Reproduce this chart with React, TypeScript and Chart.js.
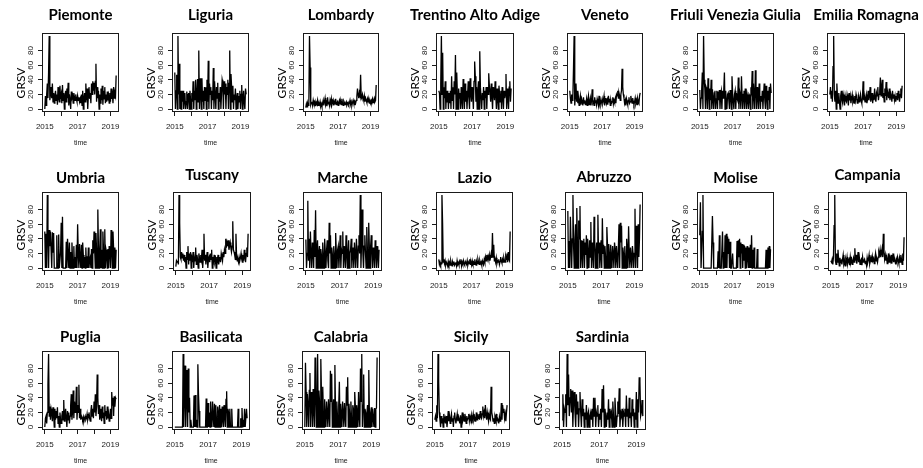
import React, { useEffect, useRef } from 'react';
import { Chart, registerables } from 'chart.js';

Chart.register(...registerables);

// ---------- data (biweekly GRSV values, 2015 -> mid 2019) ----------
const START_YEAR = 2015;
const POINTS_PER_YEAR = 26;

const piemonte = [
  0, 18, 5, 20, 35, 15, 50, 100, 12, 20, 30, 15, 35, 10, 22, 8, 18, 25, 12, 20, 6, 30, 15, 10, 32, 14,
  20, 8, 33, 12, 22, 0, 18, 25, 10, 28, 15, 36, 5, 20, 12, 0, 24, 15, 18, 8, 22, 16, 12, 20, 14, 10,
  18, 12, 16, 10, 14, 8, 20, 5, 25, 0, 15, 22, 10, 35, 12, 28, 0, 18, 30, 14, 22, 8, 35, 20, 38, 25,
  36, 20, 38, 62, 10, 30, 15, 25, 0, 20, 8, 28, 12, 32, 6, 25, 14, 30, 8, 20, 10, 24, 12, 18, 8, 22,
  10, 28, 14, 20, 8, 30, 15, 22, 18, 46,
];
const liguria = [
  50, 0, 25, 47, 0, 100, 20, 62, 0, 25, 0, 25, 10, 25, 0, 12, 22, 0, 10, 24, 0, 20, 22, 0, 25, 12,
  0, 22, 10, 38, 0, 25, 12, 40, 0, 20, 41, 10, 80, 0, 42, 20, 0, 42, 10, 25, 0, 30, 12, 30, 0, 40,
  10, 66, 0, 35, 20, 30, 0, 25, 12, 56, 0, 38, 20, 0, 30, 15, 36, 0, 22, 10, 30, 0, 20, 40, 35, 0,
  38, 20, 35, 0, 30, 20, 40, 0, 35, 80, 0, 48, 30, 10, 32, 0, 20, 12, 28, 0, 15, 22, 0, 18, 10, 25,
  0, 20, 33, 0, 15, 25, 8, 0, 28, 20,
];
const lombardy = [
  2, 7, 3, 8, 5, 10, 100, 57, 6, 9, 10, 5, 12, 8, 6, 10, 4, 9, 7, 12, 5, 8, 6, 10, 4, 7,
  3, 8, 12, 5, 10, 15, 6, 9, 4, 16, 7, 10, 5, 12, 8, 14, 6, 9, 12, 5, 10, 7, 14, 6, 8, 10,
  5, 9, 12, 7, 10, 6, 14, 8, 5, 11, 9, 6, 8, 10, 5, 7, 9, 6, 8, 12, 7, 10, 5, 9, 12, 8,
  6, 10, 8, 12, 18, 28, 20, 15, 22, 18, 47, 16, 14, 20, 16, 12, 18, 10, 15, 12, 9, 14, 10, 12, 8, 11,
  8, 12, 10, 14, 9, 12, 15, 10, 12, 33,
];
const trentino = [
  25, 22, 0, 35, 100, 20, 77, 0, 30, 15, 38, 0, 25, 10, 25, 0, 22, 8, 25, 0, 45, 12, 30, 0, 38, 20,
  74, 0, 50, 20, 0, 28, 15, 22, 0, 30, 12, 0, 41, 20, 0, 35, 10, 25, 0, 20, 38, 15, 0, 42, 22, 10,
  30, 20, 0, 38, 65, 45, 10, 30, 0, 25, 38, 0, 79, 30, 15, 0, 22, 12, 30, 0, 25, 15, 30, 0, 30, 20,
  49, 32, 25, 10, 35, 18, 0, 30, 22, 12, 38, 20, 0, 28, 15, 0, 32, 20, 10, 25, 0, 30, 18, 0, 25, 15,
  20, 48, 0, 28, 15, 0, 30, 38, 10, 28,
];
const veneto = [
  25, 15, 8, 20, 12, 18, 55, 100, 5, 18, 35, 10, 25, 8, 15, 5, 12, 18, 6, 14, 10, 5, 16, 8, 12, 6,
  8, 14, 5, 12, 18, 6, 10, 15, 5, 12, 27, 8, 10, 5, 16, 9, 12, 6, 14, 10, 5, 18, 8, 12, 6, 10,
  14, 8, 12, 18, 5, 10, 15, 8, 12, 6, 18, 10, 14, 5, 12, 8, 10, 16, 7, 12, 9, 14, 8, 20, 18, 25,
  15, 22, 18, 12, 20, 25, 55, 30, 20, 15, 8, 12, 5, 14, 10, 6, 12, 16, 8, 10, 18, 12, 8, 15, 10, 6,
  10, 15, 8, 12, 6, 14, 10, 8, 18, 22,
];
const friuli = [
  26, 0, 15, 26, 50, 0, 100, 40, 28, 0, 30, 27, 0, 42, 25, 0, 28, 12, 40, 0, 27, 15, 0, 22, 25, 0,
  14, 25, 0, 24, 12, 26, 0, 20, 25, 0, 25, 15, 26, 50, 0, 25, 10, 0, 20, 22, 12, 0, 26, 20, 0, 45,
  22, 10, 0, 20, 25, 0, 22, 15, 12, 43, 0, 25, 20, 0, 45, 18, 0, 20, 25, 0, 28, 18, 0, 20, 15, 0,
  20, 18, 0, 30, 25, 52, 0, 35, 20, 0, 53, 25, 0, 30, 18, 0, 35, 20, 0, 18, 10, 25, 0, 20, 35, 12,
  0, 32, 18, 0, 25, 12, 30, 0, 35, 22,
];
const emilia = [
  20, 30, 15, 25, 10, 58, 100, 20, 10, 25, 0, 35, 15, 8, 22, 10, 0, 18, 25, 12, 8, 20, 15, 5, 18, 12,
  10, 20, 15, 5, 22, 12, 18, 8, 15, 20, 10, 14, 8, 18, 12, 20, 15, 8, 12, 18, 10, 14, 20, 12, 8, 15,
  38, 12, 18, 10, 15, 20, 8, 14, 25, 12, 18, 30, 10, 15, 22, 8, 20, 12, 28, 15, 10, 22, 18, 30, 12, 20,
  25, 43, 18, 30, 40, 15, 22, 10, 28, 18, 37, 12, 25, 20, 15, 28, 12, 22, 18, 10, 25, 15, 20, 12, 18, 10,
  15, 22, 12, 25, 18, 10, 20, 28, 15, 32,
];
const umbria = [
  50, 0, 47, 0, 100, 48, 0, 52, 30, 50, 25, 0, 49, 22, 48, 0, 0, 0, 0, 45, 0, 0, 46, 0, 0, 22,
  62, 0, 70, 0, 0, 0, 0, 0, 36, 0, 40, 18, 0, 35, 0, 22, 0, 35, 10, 0, 30, 0, 15, 0, 32, 0,
  60, 20, 0, 33, 15, 0, 32, 0, 35, 18, 0, 15, 0, 28, 0, 16, 0, 28, 0, 12, 15, 0, 26, 0, 38, 20,
  50, 25, 0, 48, 25, 0, 80, 25, 0, 26, 53, 0, 25, 0, 50, 25, 0, 53, 0, 25, 20, 0, 26, 0, 30, 25,
  0, 52, 25, 0, 50, 26, 0, 28, 0, 25,
];
const tuscany = [
  2, 10, 8, 10, 5, 100, 62, 15, 12, 22, 14, 20, 10, 18, 8, 15, 0, 22, 12, 30, 5, 20, 10, 22, 0, 15,
  12, 22, 0, 15, 10, 28, 5, 18, 12, 0, 20, 14, 8, 18, 12, 25, 0, 15, 47, 10, 18, 5, 14, 22, 0, 12,
  15, 8, 20, 12, 25, 0, 15, 10, 18, 8, 12, 0, 15, 10, 18, 5, 12, 15, 8, 20, 15, 10, 22, 15, 25, 20,
  40, 28, 35, 30, 38, 25, 30, 35, 28, 22, 30, 64, 25, 22, 18, 12, 47, 15, 10, 12, 8, 15, 10, 14, 20, 12,
  8, 18, 10, 25, 15, 8, 20, 28, 15, 47,
];
const marche = [
  39, 0, 20, 92, 10, 40, 0, 50, 20, 0, 35, 22, 0, 52, 15, 79, 0, 25, 38, 0, 20, 30, 0, 26, 18, 0,
  35, 20, 0, 40, 22, 0, 25, 38, 10, 0, 62, 20, 45, 0, 28, 18, 0, 30, 20, 0, 48, 22, 0, 25, 30, 0,
  22, 45, 0, 25, 20, 50, 0, 30, 18, 0, 45, 20, 0, 25, 38, 0, 20, 25, 40, 0, 22, 28, 0, 35, 20, 0,
  40, 22, 0, 30, 45, 20, 100, 0, 35, 80, 20, 0, 30, 45, 22, 0, 56, 25, 0, 62, 28, 0, 30, 45, 20, 0,
  28, 20, 0, 38, 22, 0, 30, 18, 0, 25,
];
const lazio = [
  12, 5, 8, 4, 6, 100, 62, 8, 12, 6, 10, 4, 8, 6, 3, 9, 5, 8, 4, 10, 6, 3, 8, 5, 9, 4,
  6, 8, 3, 10, 5, 7, 4, 9, 6, 12, 3, 8, 5, 10, 6, 4, 9, 7, 5, 10, 4, 8, 6, 12, 5, 8,
  4, 10, 6, 8, 5, 12, 7, 4, 9, 6, 12, 8, 5, 10, 6, 8, 4, 10, 7, 5, 12, 8, 15, 10, 18, 12,
  16, 12, 18, 10, 15, 20, 14, 48, 15, 32, 10, 12, 8, 14, 6, 10, 8, 12, 5, 9, 15, 10, 7, 12, 8, 14,
  10, 8, 16, 12, 20, 8, 22, 12, 10, 50,
];
const abruzzo = [
  78, 0, 37, 0, 70, 35, 0, 40, 100, 30, 0, 38, 60, 0, 82, 35, 0, 65, 40, 85, 0, 38, 20, 0, 36, 40,
  0, 35, 18, 45, 0, 40, 20, 0, 38, 15, 63, 0, 35, 20, 0, 70, 38, 0, 20, 35, 0, 73, 20, 35, 0, 18,
  38, 0, 68, 20, 32, 0, 30, 15, 0, 56, 32, 0, 33, 20, 0, 32, 15, 0, 30, 20, 0, 35, 25, 0, 30, 15,
  0, 28, 60, 0, 62, 35, 58, 0, 28, 20, 0, 30, 15, 0, 40, 25, 0, 57, 20, 0, 28, 15, 0, 30, 20, 0,
  20, 81, 0, 58, 30, 0, 60, 15, 40, 87,
];
const molise = [
  45, 90, 0, 0, 50, 100, 0, 0, 0, 0, 0, 0, 0, 0, 0, 0, 0, 0, 0, 0, 71, 35, 0, 0, 0, 0,
  0, 0, 0, 23, 0, 45, 0, 0, 0, 0, 50, 0, 22, 0, 45, 0, 47, 0, 43, 20, 40, 0, 36, 0, 0, 0,
  20, 0, 0, 0, 0, 0, 0, 37, 0, 38, 15, 40, 0, 35, 20, 33, 0, 32, 10, 30, 0, 28, 0, 30, 15, 0,
  28, 0, 32, 0, 45, 0, 25, 0, 28, 0, 0, 0, 0, 26, 0, 0, 0, 0, 0, 0, 0, 0, 0, 0, 0, 0,
  0, 25, 0, 0, 28, 0, 30, 0, 25, 25,
];
const campania = [
  10, 8, 12, 5, 15, 58, 100, 10, 5, 20, 8, 25, 12, 3, 14, 8, 10, 5, 12, 18, 6, 10, 3, 12, 8, 15,
  6, 10, 12, 4, 15, 8, 12, 5, 10, 14, 8, 27, 10, 18, 6, 12, 22, 8, 14, 5, 10, 12, 4, 15, 8, 10,
  12, 6, 10, 4, 14, 8, 12, 18, 6, 10, 14, 8, 16, 10, 12, 6, 14, 20, 10, 12, 8, 15, 22, 18, 25, 15,
  20, 26, 15, 47, 22, 12, 18, 10, 15, 6, 12, 20, 8, 14, 10, 18, 6, 12, 20, 8, 14, 10, 5, 12, 8, 15,
  10, 6, 14, 8, 18, 12, 5, 20, 10, 42,
];
const puglia = [
  0, 12, 15, 5, 20, 58, 100, 15, 28, 10, 25, 20, 8, 27, 18, 0, 25, 10, 22, 12, 27, 5, 15, 0, 20, 10,
  5, 15, 22, 10, 37, 8, 18, 25, 12, 0, 22, 10, 20, 5, 15, 30, 45, 10, 22, 50, 12, 35, 20, 25, 55, 10,
  30, 20, 58, 12, 25, 10, 15, 12, 10, 14, 8, 12, 15, 10, 12, 18, 10, 14, 20, 12, 8, 22, 30, 15, 25, 12,
  35, 20, 45, 15, 28, 72, 40, 18, 30, 10, 25, 15, 8, 28, 12, 20, 5, 30, 15, 22, 10, 28, 12, 18, 8, 15,
  25, 12, 48, 30, 40, 15, 42, 28, 40, 38,
];
const basilicata = [
  0, 0, 0, 0, 0, 0, 0, 0, 0, 0, 0, 0, 0, 100, 0, 42, 84, 0, 78, 40, 0, 80, 20, 40, 0, 10,
  0, 0, 0, 0, 43, 0, 44, 0, 10, 0, 86, 45, 22, 0, 0, 0, 0, 0, 0, 0, 0, 0, 0, 39, 0, 0,
  33, 0, 20, 0, 35, 10, 0, 35, 15, 0, 32, 0, 30, 12, 0, 28, 0, 20, 30, 0, 25, 0, 28, 10, 0, 30,
  15, 0, 38, 49, 0, 25, 20, 0, 25, 0, 0, 25, 0, 0, 0, 0, 0, 0, 0, 0, 0, 25, 0, 0, 0, 12,
  0, 26, 0, 10, 0, 25, 0, 0, 25, 12,
];
const calabria = [
  0, 88, 48, 0, 45, 30, 0, 50, 74, 0, 48, 35, 0, 52, 25, 0, 95, 50, 0, 45, 100, 0, 50, 35, 0, 93,
  45, 0, 55, 20, 0, 38, 15, 0, 35, 20, 0, 38, 18, 0, 77, 35, 73, 0, 25, 38, 0, 85, 20, 0, 35, 15,
  0, 30, 62, 0, 32, 18, 0, 35, 20, 0, 33, 15, 0, 55, 30, 68, 0, 32, 18, 0, 35, 12, 0, 30, 25, 0,
  48, 28, 0, 30, 20, 0, 48, 15, 0, 80, 35, 100, 0, 30, 72, 0, 25, 20, 0, 18, 30, 0, 78, 15, 0, 20,
  27, 0, 25, 12, 0, 26, 0, 25, 26, 95,
];
const sicily = [
  10, 15, 8, 30, 12, 100, 63, 20, 10, 0, 15, 5, 12, 0, 18, 8, 12, 5, 15, 0, 10, 22, 8, 14, 5, 12,
  18, 8, 12, 0, 15, 20, 10, 5, 12, 18, 8, 14, 10, 5, 16, 0, 12, 20, 10, 14, 8, 18, 12, 5, 15, 10,
  12, 18, 8, 14, 10, 16, 5, 12, 18, 10, 14, 8, 12, 20, 10, 15, 12, 18, 10, 22, 14, 12, 18, 28, 15, 20,
  12, 30, 18, 10, 20, 14, 8, 18, 12, 10, 55, 20, 15, 8, 12, 5, 14, 10, 18, 8, 12, 10, 5, 14, 8, 12,
  33, 10, 30, 20, 25, 12, 18, 8, 20, 30,
];
const sardinia = [
  10, 45, 0, 25, 20, 45, 0, 100, 30, 72, 15, 40, 52, 20, 50, 0, 35, 48, 20, 0, 45, 18, 35, 0, 25, 48,
  20, 0, 38, 15, 25, 0, 20, 10, 30, 0, 18, 22, 0, 15, 20, 10, 25, 0, 40, 15, 40, 0, 20, 15, 30, 0,
  18, 10, 25, 0, 52, 20, 57, 0, 25, 15, 0, 20, 10, 38, 0, 25, 15, 20, 0, 35, 15, 0, 40, 20, 0, 15,
  35, 18, 53, 0, 20, 15, 25, 0, 20, 15, 25, 0, 43, 15, 25, 0, 40, 12, 20, 0, 38, 15, 25, 0, 20, 10,
  48, 0, 38, 20, 68, 62, 15, 20, 37, 15,
];

const REGIONS = [
  'Piemonte', 'Liguria', 'Lombardy', 'Trentino Alto Adige', 'Veneto', 'Friuli Venezia Giulia', 'Emilia Romagna',
  'Umbria', 'Tuscany', 'Marche', 'Lazio', 'Abruzzo', 'Molise', 'Campania',
  'Puglia', 'Basilicata', 'Calabria', 'Sicily', 'Sardinia',
];
const SERIES = [
  piemonte, liguria, lombardy, trentino, veneto, friuli, emilia,
  umbria, tuscany, marche, lazio, abruzzo, molise, campania,
  puglia, basilicata, calabria, sicily, sardinia,
];

const X_MIN = 2014.83;
const X_MAX = 2019.52;
const Y_MIN = -4;
const Y_MAX = 104;
const X_TICKS = [2015, 2016, 2017, 2018, 2019];
const X_TICK_LABELS = ['2015', '', '2017', '', '2019'];
const Y_TICKS = [0, 20, 40, 60, 80];
const Y_TITLE = 'GRSV';
const X_TITLE = 'time';

// ---------- layout (plot box left, top, width, height, title centre y, y-label centre y) ----------
const PANELS: number[][] = [
  [42, 33, 77, 79, 15, 83], [172, 33, 77, 79, 15, 83], [303, 33, 76, 79, 15, 83],
  [436, 33, 78, 79, 15, 83], [567, 33, 76, 79, 15, 83], [697, 33, 77, 79, 15, 83],
  [827, 33, 78, 79, 15, 83],
  [42, 192, 77, 79, 178, 235], [173, 192, 78, 79, 175, 235], [303, 192, 79, 79, 178, 235],
  [436, 192, 77, 79, 178, 235], [565, 192, 78, 79, 177, 235], [697, 192, 77, 79, 178, 235],
  [828, 192, 79, 79, 175, 235],
  [42, 351, 77, 79, 337, 410], [172, 351, 78, 79, 337, 410], [302, 351, 78, 79, 337, 410],
  [432, 351, 78, 79, 337, 410], [559, 351, 87, 79, 337, 410],
];

const AXIS_W = 42;
const TITLE_H = 33;
const XAXIS_H = 42;
const TICK_FONT = { family: '"Liberation Sans", Arial, sans-serif', size: 8 };
const INK = '#1a1a1a';

const panelDecor = {
  id: 'panelDecor',
  afterDraw(chart: any, _args: any, opts: any) {
    const { ctx, chartArea: a } = chart;
    ctx.save();
    ctx.strokeStyle = INK;
    ctx.lineWidth = 1;
    ctx.strokeRect(a.left + 0.5, a.top + 0.5, a.right - a.left - 1, a.bottom - a.top - 1);
    ctx.fillStyle = '#000';
    ctx.textAlign = 'center';
    ctx.textBaseline = 'middle';
    ctx.font = 'bold 15px Lato, "Open Sans", sans-serif';
    ctx.fillText(opts.title, (a.left + a.right) / 2, opts.titleY);
    ctx.translate(opts.ylabX, opts.ylabY);
    ctx.rotate(-Math.PI / 2);
    ctx.font = '12px Lato, "Open Sans", sans-serif';
    ctx.fillText(Y_TITLE, 0, 0);
    ctx.restore();
  },
};

function Panel({ idx }: { idx: number }) {
  const ref = useRef<HTMLCanvasElement | null>(null);
  const [L, T, W, H, titleY, ylabY] = PANELS[idx];
  const cw = W + 2 * AXIS_W;
  const ch = TITLE_H + H + XAXIS_H;
  const left = L - AXIS_W;
  const top = T - TITLE_H;

  useEffect(() => {
    if (!ref.current) return;
    const values = SERIES[idx];
    const chart = new Chart(ref.current, {
      type: 'line',
      data: {
        datasets: [
          {
            data: values.map((v, i) => ({ x: START_YEAR + i / POINTS_PER_YEAR, y: v })),
            borderColor: '#000',
            borderWidth: 1.3,
            pointRadius: 0,
            tension: 0,
            fill: false,
          },
        ],
      },
      options: {
        animation: false,
        responsive: false,
        devicePixelRatio: 1,
        layout: { padding: { top: TITLE_H, right: AXIS_W, left: 0, bottom: 0 } },
        plugins: {
          legend: { display: false },
          tooltip: { enabled: false },
          title: { display: false },
          panelDecor: {
            title: REGIONS[idx],
            titleY: titleY - top,
            ylabX: AXIS_W - 21,
            ylabY: ylabY - top,
          },
        } as any,
        scales: {
          x: {
            type: 'linear',
            min: X_MIN,
            max: X_MAX,
            afterBuildTicks: (s: any) => {
              s.ticks = X_TICKS.map((v) => ({ value: v }));
            },
            afterFit: (s: any) => {
              s.height = XAXIS_H;
            },
            ticks: {
              autoSkip: false,
              maxRotation: 0,
              minRotation: 0,
              padding: 6,
              font: TICK_FONT,
              color: INK,
              callback: (v: any) => {
                const k = X_TICKS.indexOf(Number(v));
                return k >= 0 ? X_TICK_LABELS[k] : '';
              },
            },
            grid: { display: true, drawOnChartArea: false, drawTicks: true, tickLength: 4, color: INK },
            border: { display: false },
            title: {
              display: true,
              text: X_TITLE,
              color: INK,
              font: { family: '"Liberation Sans", Arial, sans-serif', size: 7 },
              padding: { top: 0, bottom: 7 },
            },
          },
          y: {
            type: 'linear',
            min: Y_MIN,
            max: Y_MAX,
            afterBuildTicks: (s: any) => {
              s.ticks = Y_TICKS.map((v) => ({ value: v }));
            },
            afterFit: (s: any) => {
              s.width = AXIS_W;
            },
            ticks: {
              autoSkip: false,
              minRotation: 90,
              maxRotation: 90,
              crossAlign: 'center',
              padding: 3,
              font: TICK_FONT,
              color: INK,
              callback: (v: any) => String(v),
            },
            grid: { display: true, drawOnChartArea: false, drawTicks: true, tickLength: 4, color: INK },
            border: { display: false },
          },
        },
      },
      plugins: [panelDecor],
    } as any);
    return () => chart.destroy();
  }, [idx]);

  return (
    <canvas
      ref={ref}
      width={cw}
      height={ch}
      style={{ position: 'absolute', left, top, width: cw, height: ch }}
    />
  );
}

export default function App() {
  return (
    <div
      style={{
        position: 'absolute',
        left: 0,
        top: 0,
        width: 923,
        height: 468,
        overflow: 'hidden',
        background: '#fff',
      }}
    >
      {REGIONS.map((_, i) => (
        <Panel key={i} idx={i} />
      ))}
    </div>
  );
}
